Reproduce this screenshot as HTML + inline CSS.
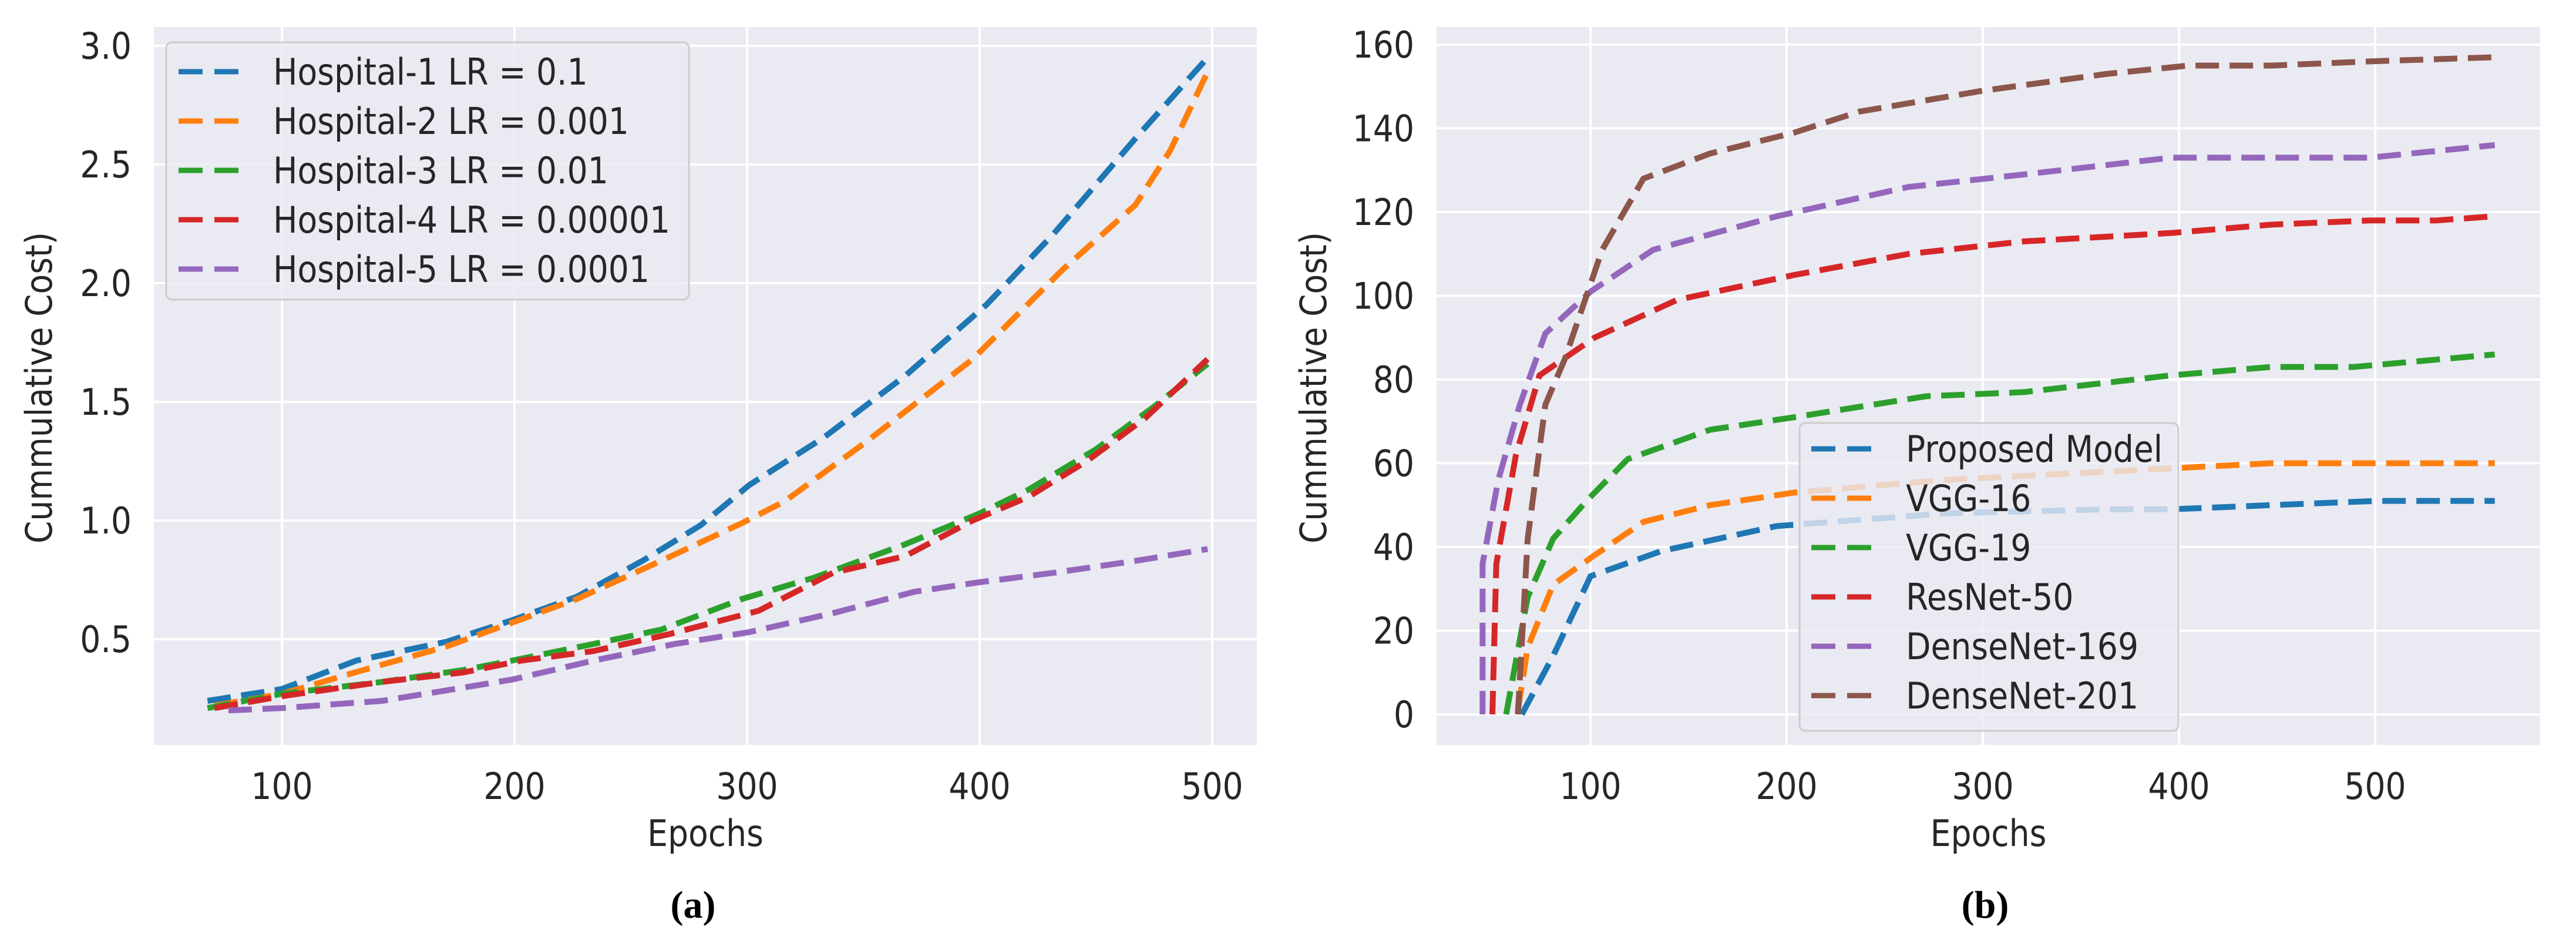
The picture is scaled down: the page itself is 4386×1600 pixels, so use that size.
<!DOCTYPE html>
<html><head><meta charset="utf-8"><style>
html,body{margin:0;padding:0;background:#fff;}
svg{display:block;}
text{font-family:"DejaVu Sans","Liberation Sans",sans-serif;fill:#262626;}
</style></head><body>
<svg id="chart" width="4386" height="1600" viewBox="0 0 4386 1600" xmlns="http://www.w3.org/2000/svg"></svg>
<script>
// ---- Panel (a) data ----
const aLabels = ["Hospital-1 LR = 0.1","Hospital-2 LR = 0.001","Hospital-3 LR = 0.01","Hospital-4 LR = 0.00001","Hospital-5 LR = 0.0001"];
const aColors = ["#1f77b4","#ff7f0e","#2ca02c","#d62728","#9467bd"];
const aX1 = [68,100,132,171,199,227,255,280,301,333,368,403,432,467,498];
const aY1 = [0.24,0.29,0.41,0.49,0.58,0.68,0.83,0.98,1.15,1.35,1.61,1.91,2.21,2.61,2.95];
const aX2 = [71,100,135,171,199,227,263,298,316,351,397,436,467,482,498];
const aY2 = [0.22,0.27,0.37,0.47,0.57,0.67,0.83,0.99,1.08,1.33,1.68,2.06,2.33,2.56,2.89];
const aX3 = [68,100,143,178,199,234,263,298,329,368,400,421,450,475,498];
const aY3 = [0.21,0.27,0.32,0.37,0.41,0.48,0.54,0.67,0.76,0.90,1.03,1.13,1.30,1.48,1.66];
const aX4 = [71,100,143,178,203,234,266,305,337,368,397,421,446,471,498];
const aY4 = [0.21,0.26,0.32,0.36,0.41,0.45,0.52,0.62,0.78,0.85,1.00,1.10,1.25,1.43,1.68];
const aX5 = [77,100,143,168,199,234,269,301,337,372,400,432,467,498];
const aY5 = [0.20,0.21,0.24,0.28,0.33,0.41,0.48,0.53,0.61,0.70,0.74,0.78,0.83,0.88];
const aXTicks = [100,200,300,400,500];
const aYTicks = [0.5,1.0,1.5,2.0,2.5,3.0];
// ---- Panel (b) data ----
const bLabels = ["Proposed Model","VGG-16","VGG-19","ResNet-50","DenseNet-169","DenseNet-201"];
const bColors = ["#1f77b4","#ff7f0e","#2ca02c","#d62728","#9467bd","#8c564b"];
const bX1 = [65,81,100,136,195,280,363,396,447,501,561];
const bY1 = [0,14,33,39,45,48,49,49,50,51,51];
const bX2 = [63,68,81,102,127,161,204,280,363,405,447,561];
const bY2 = [1,16,31,38,46,50,53,56,58,59,60,60];
const bX3 = [57,68,81,98,119,161,204,271,321,396,447,489,561];
const bY3 = [0,28,42,51,61,68,71,76,77,81,83,83,86];
const bX4 = [50,52,62,74,102,144,204,262,321,396,447,497,531,561];
const bY4 = [0,36,62,81,90,99,105,110,113,115,117,118,118,119];
const bX5 = [45,45,53,64,77,100,132,195,262,321,396,447,497,561];
const bY5 = [0,36,56,74,91,101,111,119,126,129,133,133,133,136];
const bX6 = [63,68,77,87,106,127,161,204,237,300,363,405,447,497,561];
const bY6 = [0,42,74,85,111,128,134,139,144,149,153,155,155,156,157];
const bXTicks = [100,200,300,400,500];
const bYTicks = [0,20,40,60,80,100,120,140,160];

const NS = "http://www.w3.org/2000/svg";
const svg = document.getElementById("chart");
function mk(tag, attrs, parent){
  const e = document.createElementNS(NS, tag);
  for (const k in attrs) e.setAttribute(k, attrs[k]);
  (parent||svg).appendChild(e);
  return e;
}
function txt(parent, x, y, s, size, anchor, extra){
  const t = mk("text", {x:0, y:0, "font-size":size, "text-anchor":anchor||"start",
    transform:"translate("+x+","+y+") "+(extra||"")+" scale(0.89,1)"}, parent);
  t.textContent = s;
  return t;
}

function panel(cfg){
  const g = mk("g", {});
  
  
  const sx = v => cfg.x0 + (v - cfg.xa) * cfg.kx;
  const sy = v => cfg.y0 - (v - cfg.ya) * cfg.ky;
  const bg = mk("rect", {x:cfg.L, y:cfg.T, width:cfg.R-cfg.L, height:cfg.B-cfg.T, fill:"#eaeaf2"}, g);
  
  
  cfg.xt.forEach(v=>{
    const l = mk("line", {x1:sx(v), x2:sx(v), y1:cfg.T, y2:cfg.B, stroke:"#fff", "stroke-width":4}, g);
    
    
    const t = txt(g, sx(v), 1360, String(v), 62, "middle");
    
    
  });
  cfg.yt.forEach(v=>{
    const l = mk("line", {x1:cfg.L, x2:cfg.R, y1:sy(v), y2:sy(v), stroke:"#fff", "stroke-width":4}, g);
    
    
    const t = txt(g, cfg.L-38, sy(v)+22, cfg.fmt(v), 62, "end");
    
    
  });
  cfg.series.forEach((s,i)=>{
    const d = s[0].map((x,j)=>(j?"L":"M")+sx(x).toFixed(1)+","+sy(s[1][j]).toFixed(1)).join(" ");
    const p = mk("path", {d:d, fill:"none", stroke:cfg.colors[i], "stroke-width":10, "stroke-dasharray":"40,18"}, g);
    
    
  });
  const xl = txt(g, (cfg.L+cfg.R)/2, 1440, "Epochs", 62, "middle");
  
  
  const yl = mk("text", {x:0, y:0, "font-size":62, "text-anchor":"middle",
    transform:"translate("+cfg.ylx+",660) rotate(-90) scale(0.89,1)"}, g);
  yl.textContent = "Cummulative Cost)";
  
  
  // legend
  const lg = mk("g", {}, g);
  
  
  const lb = mk("rect", {x:cfg.lg.x, y:cfg.lg.y, width:cfg.lg.w, height:cfg.lg.h, rx:10,
    fill:"rgba(234,234,242,0.8)", stroke:"#cccccc", "stroke-width":3}, lg);
  
  
  cfg.labels.forEach((s,i)=>{
    const y = cfg.lg.row0 + i*cfg.lg.step;
    const e = mk("g", {}, lg);
    
    
    mk("line", {x1:cfg.lg.lx, x2:cfg.lg.lx+102, y1:y, y2:y, stroke:cfg.colors[i], "stroke-width":9, "stroke-dasharray":"41,20"}, e);
    txt(e, cfg.lg.tx, y+22, s, 62, "start");
  });
  const cap = mk("text", {x:cfg.capx, y:1562, "font-size":66, "font-weight":"bold", "text-anchor":"middle",
    style:"font-family:'Liberation Serif',serif;fill:#000"}, g);
  cap.textContent = cfg.cap;
  
  
}

panel({name:"panel-a", L:262, R:2140, T:46, B:1268,
  x0:480, xa:100, kx:3.96, y0:78, ya:3.0, ky:404,
  xt:aXTicks, yt:aYTicks, fmt:v=>v.toFixed(1), colors:aColors, labels:aLabels,
  series:[[aX1,aY1],[aX2,aY2],[aX3,aY3],[aX4,aY4],[aX5,aY5]],
  ylx:88, capx:1180, cap:"(a)",
  lg:{x:283, y:72, w:890, h:438, lx:304, tx:465, row0:122, step:84}});

panel({name:"panel-b", L:2446, R:4325, T:46, B:1268,
  x0:2708, xa:100, kx:3.34, y0:1216, ya:0, ky:7.125,
  xt:bXTicks, yt:bYTicks, fmt:v=>String(v), colors:bColors, labels:bLabels,
  series:[[bX1,bY1],[bX2,bY2],[bX3,bY3],[bX4,bY4],[bX5,bY5],[bX6,bY6]],
  ylx:2258, capx:3380, cap:"(b)",
  lg:{x:3064, y:720, w:645, h:524, lx:3084, tx:3245, row0:764, step:84}});
</script>
</body></html>
